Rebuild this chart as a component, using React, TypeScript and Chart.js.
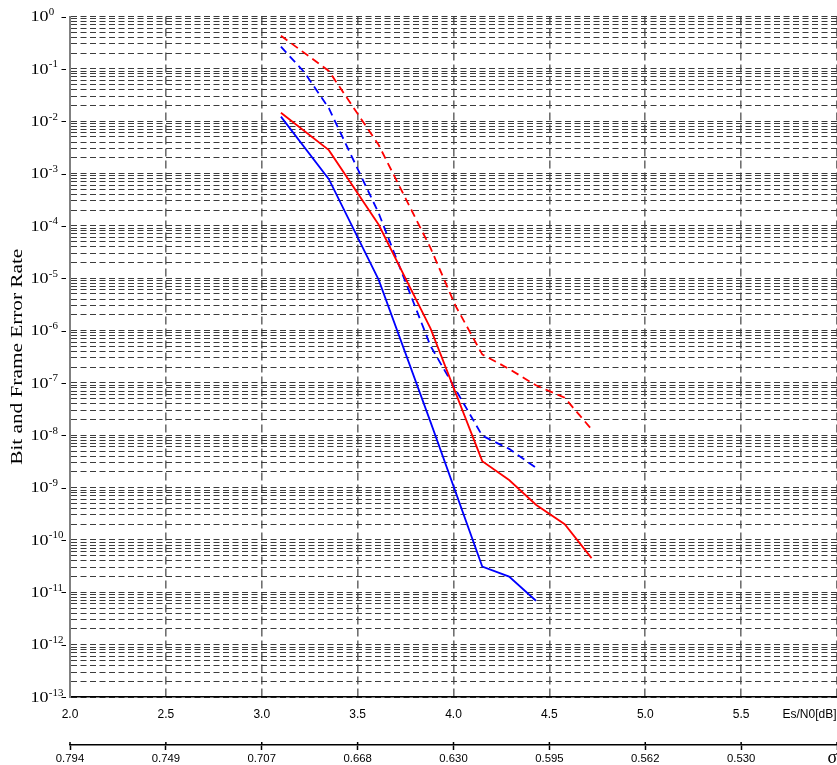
import React, { useEffect, useRef } from "react";
import { Chart, registerables } from "chart.js";

Chart.register(...registerables);

// ---- axis ticks / labels ----
const esn0Ticks = [2.0, 2.5, 3.0, 3.5, 4.0, 4.5, 5.0, 5.5, 6.0];
const esn0Labels = ["2.0", "2.5", "3.0", "3.5", "4.0", "4.5", "5.0", "5.5", ""];
const sigmaLabels = ["0.794", "0.749", "0.707", "0.668", "0.630", "0.595", "0.562", "0.530", ""];
const esn0Title = "Es/N0[dB]";
const sigmaTitle = "σ";
const yTitle = "Bit and Frame Error Rate";
const decadeExponents = [0, -1, -2, -3, -4, -5, -6, -7, -8, -9, -10, -11, -12, -13];
const minorMantissas = [1, 2, 3, 4, 5, 6, 7, 8, 9];

// ---- series (Es/N0 in dB, error rate) ----
const redBerX = [3.10, 3.35, 3.61, 3.88, 4.15, 4.29, 4.43, 4.58, 4.72];
const redBerY = [1.45e-2, 2.8e-3, 1.05e-4, 1.1e-6, 3.2e-9, 1.4e-9, 4.7e-10, 2.0e-10, 4.5e-11];

const redFerX = [3.10, 3.35, 3.61, 3.88, 4.01, 4.15, 4.29, 4.43, 4.58, 4.72];
const redFerY = [0.43, 0.091, 3.5e-3, 3.8e-5, 3.0e-6, 3.5e-7, 1.85e-7, 9.0e-8, 5.2e-8, 1.3e-8];

const blueBerX = [3.10, 3.35, 3.61, 3.88, 4.15, 4.29, 4.43];
const blueBerY = [1.22e-2, 7.8e-4, 9.3e-6, 1.8e-8, 3.1e-11, 2.0e-11, 6.9e-12];

const blueFerX = [3.10, 3.22, 3.35, 3.61, 3.88, 4.15, 4.29, 4.43];
const blueFerY = [0.265, 0.088, 1.77e-2, 1.74e-4, 5.1e-7, 9.8e-9, 5.5e-9, 2.4e-9];

const toPoints = (xs: number[], ys: number[]) => xs.map((x, i) => ({ x, y: ys[i] }));

const yTickValues: number[] = [];
decadeExponents.forEach((e) => {
  if (e === 0) {
    yTickValues.push(1);
  } else {
    minorMantissas.forEach((m) => yTickValues.push(m * Math.pow(10, e)));
  }
});

const SERIF = '"Liberation Serif", "Times New Roman", serif';
const SANS = '"Liberation Sans", Arial, sans-serif';

function drawStretched(
  ctx: CanvasRenderingContext2D,
  text: string,
  x: number,
  y: number,
  font: string,
  sx: number,
  align: CanvasTextAlign
) {
  ctx.save();
  ctx.font = font;
  ctx.translate(x, y);
  ctx.scale(sx, 1);
  ctx.textAlign = align;
  ctx.textBaseline = "alphabetic";
  ctx.fillStyle = "#000";
  ctx.fillText(text, 0, 0);
  ctx.restore();
}

const textPlugin = {
  id: "berText",
  afterDraw(chart: any) {
    const ctx: CanvasRenderingContext2D = chart.ctx;
    const xs = chart.scales.x;
    const x2 = chart.scales.x2;
    const ys = chart.scales.y;
    const area = chart.chartArea;

    // y decade labels 10^k with tick dashes
    const baseFont = `15px ${SERIF}`;
    const expFont = `9.5px ${SERIF}`;
    const sxBase = 1.2;
    ctx.save();
    ctx.font = baseFont;
    const w = ctx.measureText("10").width * sxBase;
    ctx.restore();
    decadeExponents.forEach((e) => {
      const py = ys.getPixelForValue(Math.pow(10, e));
      const x0 = 30.5;
      drawStretched(ctx, "10", x0, py + 4.8, baseFont, sxBase, "left");
      drawStretched(ctx, String(e), x0 + w + 0.3, py - 1.5, expFont, 1.15, "left");
      ctx.save();
      ctx.strokeStyle = "#000";
      ctx.lineWidth = 1;
      ctx.beginPath();
      ctx.moveTo(61.5, Math.round(py) + 0.5);
      ctx.lineTo(66, Math.round(py) + 0.5);
      ctx.stroke();
      ctx.restore();
    });

    // y title
    ctx.save();
    ctx.translate(21.5, (area.top + area.bottom) / 2);
    ctx.rotate(-Math.PI / 2);
    ctx.scale(1.25, 1);
    ctx.font = `17px ${SERIF}`;
    ctx.fillStyle = "#000";
    ctx.textAlign = "center";
    ctx.textBaseline = "alphabetic";
    ctx.fillText(yTitle, 0, 0);
    ctx.restore();

    // x labels (Es/N0) and sigma labels
    esn0Ticks.forEach((v, i) => {
      const px = xs.getPixelForValue(v);
      if (esn0Labels[i]) {
        drawStretched(ctx, esn0Labels[i], px, area.bottom + 20.5, `12px ${SANS}`, 1.0, "center");
      }
      if (sigmaLabels[i]) {
        drawStretched(ctx, sigmaLabels[i], px, x2.top + 17, `10.5px ${SANS}`, 1.08, "center");
      }
      ctx.save();
      ctx.strokeStyle = "#000";
      ctx.lineWidth = 1.5;
      ctx.beginPath();
      ctx.moveTo(px, x2.top - 3);
      ctx.lineTo(px, x2.top);
      ctx.stroke();
      ctx.restore();
    });

    drawStretched(ctx, esn0Title, 836.5, area.bottom + 20.5, `12px ${SANS}`, 1.0, "right");
    drawStretched(ctx, sigmaTitle, 827.5, x2.top + 18, `18px ${SERIF}`, 1.0, "left");
  },
};

export default function App() {
  const canvasRef = useRef<HTMLCanvasElement | null>(null);

  useEffect(() => {
    if (!canvasRef.current) return;
    const setTicks = (scale: any) => {
      scale.ticks = esn0Ticks.map((v) => ({ value: v }));
    };
    const chart = new Chart(canvasRef.current, {
      type: "line",
      data: {
        datasets: [
          {
            label: "BER (red)",
            data: toPoints(redBerX, redBerY),
            borderColor: "#ff0000",
            borderWidth: 1.8,
            pointRadius: 0,
            tension: 0,
          },
          {
            label: "FER (red)",
            data: toPoints(redFerX, redFerY),
            borderColor: "#ff0000",
            borderWidth: 1.8,
            borderDash: [8, 5],
            pointRadius: 0,
            tension: 0,
          },
          {
            label: "BER (blue)",
            data: toPoints(blueBerX, blueBerY),
            borderColor: "#0000ff",
            borderWidth: 1.8,
            pointRadius: 0,
            tension: 0,
          },
          {
            label: "FER (blue)",
            data: toPoints(blueFerX, blueFerY),
            borderColor: "#0000ff",
            borderWidth: 1.8,
            borderDash: [8, 5],
            pointRadius: 0,
            tension: 0,
          },
        ],
      },
      options: {
        animation: false,
        responsive: true,
        maintainAspectRatio: false,
        layout: { padding: { top: 16.5, left: 0, right: 0, bottom: 0 } },
        plugins: {
          legend: { display: false },
          tooltip: { enabled: false },
          title: { display: false },
        },
        scales: {
          x: {
            type: "linear",
            position: "bottom",
            min: 2,
            max: 6,
            weight: 0,
            afterBuildTicks: setTicks,
            afterFit: (s: any) => {
              s.height = 48;
            },
            ticks: { display: false, autoSkip: false },
            grid: { color: "#707070", lineWidth: 1.6, drawTicks: false },
            border: { display: true, color: "#000", width: 1.6, dash: [8, 4] },
          },
          x2: {
            type: "linear",
            position: "bottom",
            min: 2,
            max: 6,
            weight: 1,
            afterBuildTicks: setTicks,
            afterFit: (s: any) => {
              s.height = 20;
            },
            ticks: { display: false, autoSkip: false },
            grid: {
              drawOnChartArea: false,
              drawTicks: true,
              tickLength: 5,
              tickColor: "#000",
              tickWidth: 1.5,
              color: "#000",
            },
            border: { display: true, color: "#000", width: 1.5 },
          },
          y: {
            type: "logarithmic",
            position: "left",
            min: 1e-13,
            max: 1,
            afterBuildTicks: (scale: any) => {
              scale.ticks = yTickValues.map((v) => ({ value: v }));
            },
            afterFit: (s: any) => {
              s.width = 70;
            },
            ticks: { display: false, autoSkip: false },
            grid: { color: "#3c3c3c", lineWidth: 1, drawTicks: false },
            border: { display: true, color: "#808080", width: 2, dash: [6, 3.5] },
          },
        },
      },
      plugins: [textPlugin],
    } as any);
    return () => chart.destroy();
  }, []);

  return (
    <div style={{ position: "absolute", left: 0, top: 0, width: 837, height: 765 }}>
      <canvas ref={canvasRef} />
    </div>
  );
}
